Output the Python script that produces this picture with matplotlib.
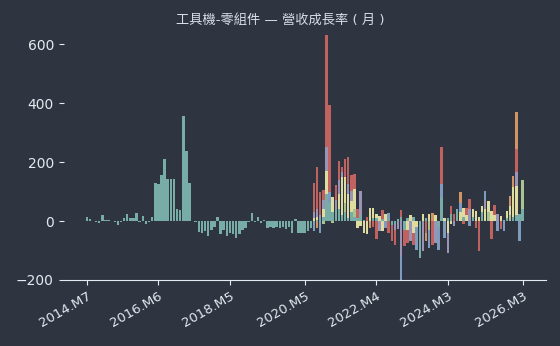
import numpy as np
import matplotlib.pyplot as plt

plt.rcParams['font.family'] = ['DejaVu Sans', 'Noto Sans CJK TC']

title = '工具機-零組件 — 營收成長率 ( 月 )'
first_month = (2014, 7)
multi_start = '2020.M8'
tick_labels = ['2014.M7', '2016.M6', '2018.M5', '2020.M5', '2022.M4', '2024.M3', '2026.M3']

# growth rate (%) per month, 2014.M7 - 2026.M3
teal = [14, 7, 0, -2, -7, 20, 2, 2, 1, -2,
        -13, -5, 9, 25, 11, 9, 27, -5, 17, -11,
        -5, 14, 130, 125, 157, 211, 141, 143, 141, 41,
        39, 355, 239, 130, 0, -3, -36, -41, -34, -52,
        -32, -22, 12, -45, -32, -50, -40, -45, -58, -45,
        -30, -25, -5, 27, -3, 12, -6, 3, -23, -22,
        -25, -20, -25, -22, -28, -22, -40, 6, -40, -40,
        -40, -35, -25,
        -8, 5, 8, 15, 90, 60, 30, 40, 40, 20,
        30, 10, 30, 15, 10, 20, 5, 0, 0, 10,
        10, 0, 8, 0, 5, -15, -10, 6, 15, -30,
        10, 0, 12, 0, -125, 0, 10, 0, 0, 0,
        -20, 80, 0, 10, 25, 0, 40, 0, 15, 0,
        0, 15, 0, 0, 30, 0, 0, 0, 0, 0,
        0, 5, 10, 0, 15, 20, 25, 40]

# other companies, 2020.M8 - 2026.M3
orange = [0, -23, 0, 0, 0, 0, 0, 0, 0, 0,
          0, 0, 0, 0, 0, 0, 0, 0, -23, 25,
          0, 0, 20, 0, 0, 0, 0, 0, 0, 0,
          0, -30, 0, 0, 0, 0, -68, 0, 28, 0,
          0, 0, 0, 0, 0, 15, 0, 97, 0, 0,
          0, 25, 0, 0, 0, 60, 0, 0, 30, 0,
          0, 0, 0, 85, 153, 369, 0, 0]
red = [130, 182, 97, 105, 631, 392, 0, 123, 205, 182,
       210, 216, 157, 159, 40, 0, 0, 12, 30, -20,
       -62, 0, 37, 0, -40, -68, -80, 0, 37, -85,
       -74, 0, -80, 0, 0, 0, -40, 0, -80, 0,
       0, 252, 0, 0, 51, 23, 0, 0, -10, 43,
       74, 0, -23, -102, 0, 0, 0, -62, 55, 0,
       -28, 0, 0, 0, 0, 245, -45, 0]
blue = [-34, 0, -40, 0, 100, 100, 0, 0, 0, 0,
        0, 0, 0, 0, 0, 0, 0, 0, 0, 0,
        0, 0, 0, -23, 28, 0, 0, 0, -199, 0,
        0, 0, 0, -97, 0, 0, 0, -90, 0, 0,
        -97, 125, -57, 0, 0, 0, 0, 60, 0, 0,
        -17, 0, 0, 0, 0, 102, 0, 0, 0, -34,
        0, -34, 0, 0, 0, 0, -68, 0]
purple = [30, 40, 20, 70, 250, 0, 0, 70, 140, 165,
          0, 125, 102, 0, 0, 102, 0, 0, 0, 0,
          0, -34, 0, 0, 0, 0, -30, -28, -120, 0,
          0, -68, 0, 0, 0, -102, 0, 0, 0, -74,
          0, 0, 0, -108, 0, -17, 0, 0, 0, 0,
          40, 0, 0, 0, 0, 70, 0, 0, 0, 23,
          0, 0, 0, 0, 0, 165, 0, 0]
yellow = [10, 15, 0, 40, 170, 0, 80, 0, 90, 150,
          150, 90, 68, 110, -23, -17, -40, -43, 45, 45,
          23, 17, -34, 23, 0, 0, 0, 0, 0, 0,
          -30, 20, -40, -20, 0, 23, 0, 23, 0, 20,
          0, 0, 10, -40, -11, 0, 20, 30, 45, 20,
          0, 40, 34, 15, 51, 40, 68, 34, 20, 0,
          17, 0, 34, 50, 115, 120, 0, 0]
green = [0, 0, 0, -10, 0, 0, -6, 0, 0, 0,
         60, 0, 0, 40, 0, 0, 0, 0, 0, 0,
         0, 0, 0, 0, 0, 0, 0, 0, 0, 0,
         0, 0, 0, 0, 0, 0, 0, -30, 0, 0,
         0, 0, 0, 0, 0, 0, 0, 0, 0, 0,
         0, 0, 0, 0, 0, 0, 30, 0, 0, 0,
         0, 0, 0, 20, 0, 0, 0, 140]

# month labels
months = []
yr, mo = first_month
for _ in range(len(teal)):
    months.append(f'{yr}.M{mo}')
    mo += 1
    if mo > 12:
        yr, mo = yr + 1, 1

start = months.index(multi_start)
x_all = np.arange(len(months))
x_new = np.arange(start, start + len(red))

bg = '#2e3440'
fg = '#e5e9f0'
fig = plt.figure(figsize=(5.6, 3.46), dpi=100)
fig.patch.set_facecolor(bg)
ax = fig.add_axes([0.1136, 0.1908, 0.8609, 0.733])
ax.set_facecolor(bg)

for vals, color in [(orange, '#cf9563'), (red, '#c0625f'), (blue, '#7f9cc0'),
                    (purple, '#9c94b6'), (yellow, '#dedc9e'), (green, '#a8c490')]:
    ax.bar(x_new, vals, width=0.8, color=color, linewidth=0)
ax.bar(x_all, teal, width=0.8, color='#78aca6', linewidth=0)

ax.set_xlim(-7.44, 147.44)
ax.set_ylim(-200, 660)
ax.set_yticks([-200, 0, 200, 400, 600])
ax.set_xticks([months.index(t) for t in tick_labels])
ax.set_xticklabels(tick_labels, rotation=30, ha='right', rotation_mode='anchor')

for s in ['top', 'right', 'left']:
    ax.spines[s].set_visible(False)
ax.spines['bottom'].set_color(fg)
ax.tick_params(colors=fg, labelsize=10, length=3.5)
ax.tick_params(axis='x', labelsize=9.5)

fig.suptitle(title, x=0.5, y=0.942, va='center', color='#d8dee9', fontsize=9.5)

fig.savefig('out.png', facecolor=bg)
